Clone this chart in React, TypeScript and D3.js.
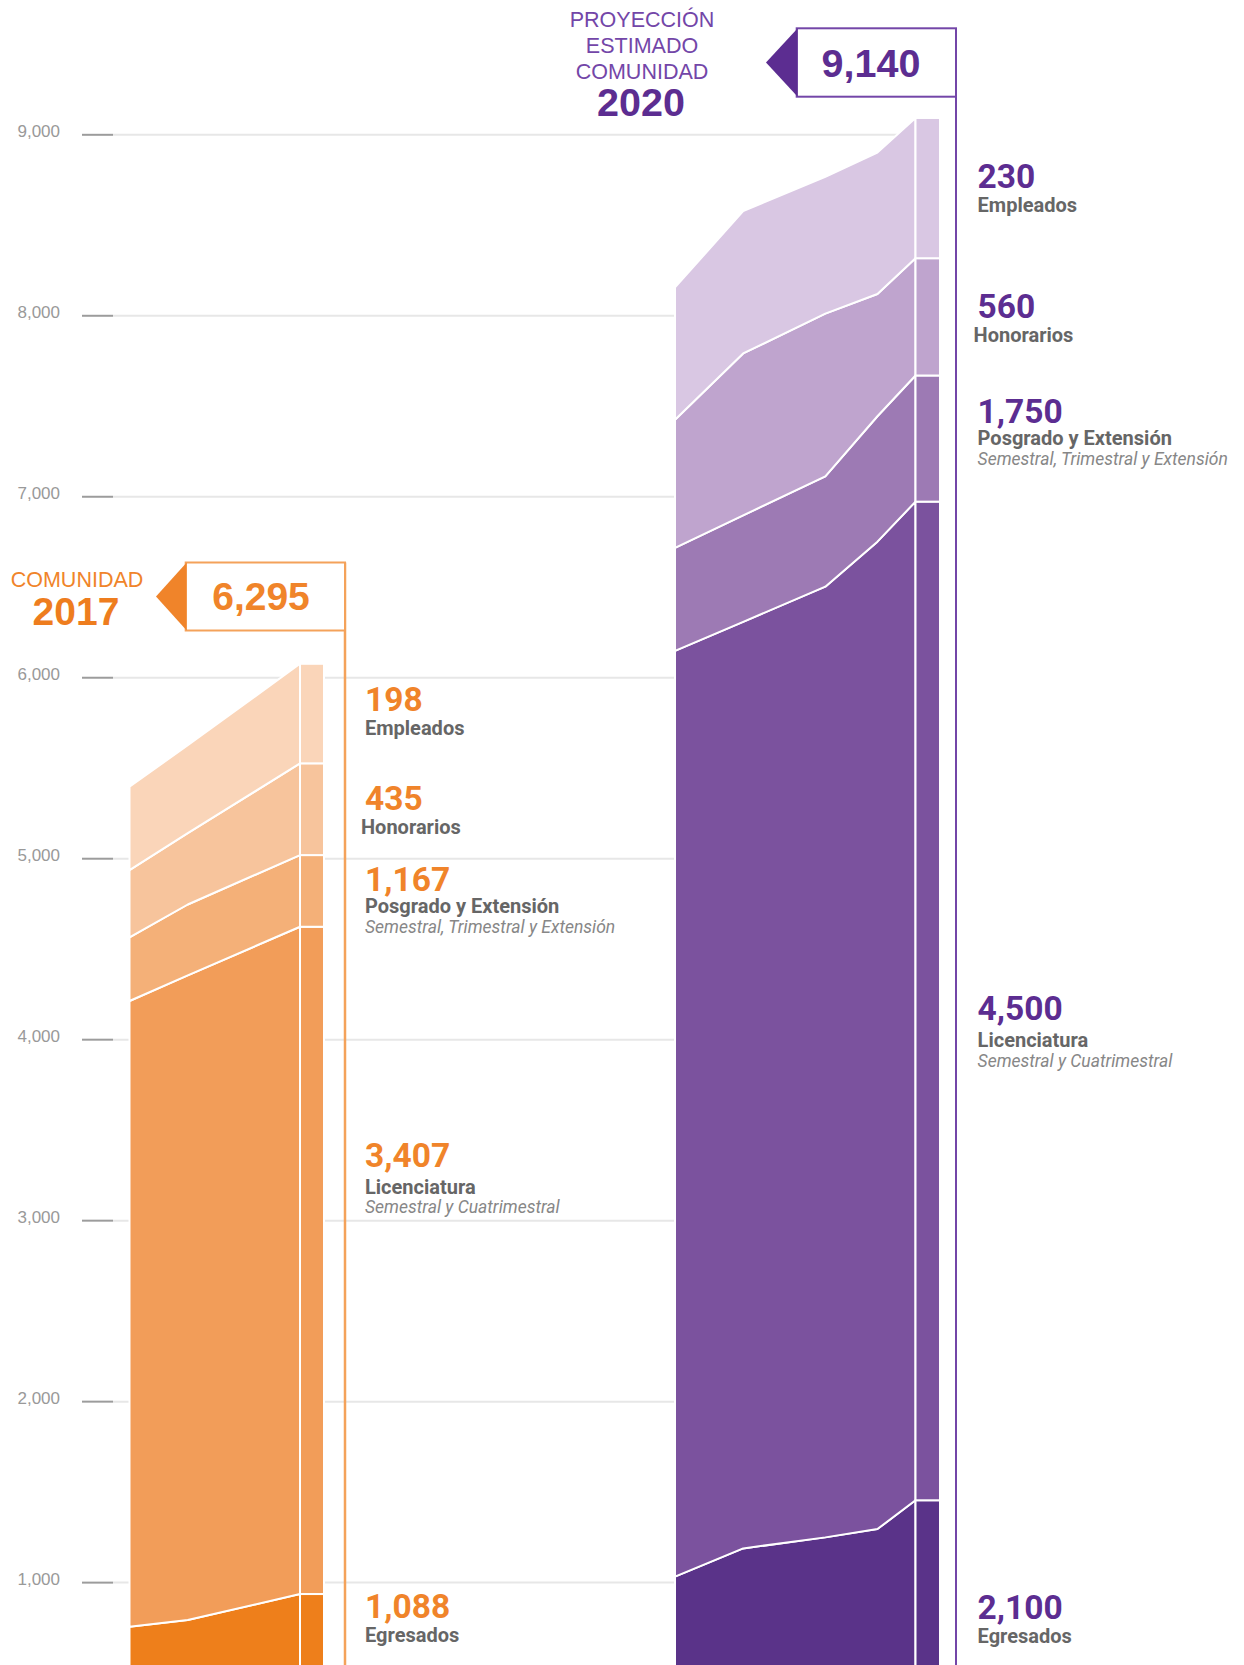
import React from 'react';
import * as d3 from 'd3';

// ---------- DATA ----------
const layerKeys = ['Egresados', 'Licenciatura', 'Posgrado', 'Honorarios', 'Empleados'];

// 2017 stack, read at three points along the area
const orangePeriods = [0, 4.1, 12];
const orangeEgresados = [756, 793, 937];
const orangeLicenciatura = [3458, 3562, 3687];
const orangePosgrado = [352, 392, 396];
const orangeHonorarios = [371, 394, 507];
const orangeEmpleados = [461, 486, 550];

// 2020 projection stack
const purplePeriods = [0, 3.4, 7.5, 10.1, 12];
const purpleEgresados = [1033, 1189, 1250, 1296, 1455];
const purpleLicenciatura = [5115, 5120, 5253, 5456, 5518];
const purplePosgrado = [570, 588, 610, 693, 697];
const purpleHonorarios = [708, 895, 899, 675, 648];
const purpleEmpleados = [731, 786, 756, 782, 775];

const yTicks = [1000, 2000, 3000, 4000, 5000, 6000, 7000, 8000, 9000];

const orangeTotal = '6,295';
const purpleTotal = '9,140';

// labels, top to bottom
const labelNames = ['Empleados', 'Honorarios', 'Posgrado y Extensión', 'Licenciatura', 'Egresados'];
const labelNotes = ['', '', 'Semestral, Trimestral y Extensión', 'Semestral y Cuatrimestral', ''];
const orangeLabelValues = ['198', '435', '1,167', '3,407', '1,088'];
const purpleLabelValues = ['230', '560', '1,750', '4,500', '2,100'];

// ---------- LAYOUT / STYLE ----------
const W = 1244;
const H = 1665;
const yScale = d3.scaleLinear().domain([0, 9000]).range([1763.6, 134.8]);

const orangeColors = ['#EE7F1B', '#F29D59', '#F4B078', '#F7C49C', '#FAD5B9'];
const purpleColors = ['#5A3389', '#7B529E', '#9D7AB4', '#BFA4CE', '#D9C7E3'];

const ORANGE = '#F0842A';
const ORANGE_LINE = '#F4A25A';
const PURPLE = '#5C2D91';
const PURPLE_LIGHT = '#7346A8';
const GREY_TXT = '#666666';
const GREY_NOTE = '#878787';

const orangeLabelBase = [711, 809.5, 891, 1166.5, 1618];
const purpleLabelBase = [188, 318, 423, 1020, 1619];
const nameDy = [24, 24, 22, 27, 24];
const nameDx = [0, -4, 0, 0, 0];
const noteDy = 19.5;

const SANS = '"Liberation Sans", Arial, Helvetica, sans-serif';
const ROBOTO = 'Roboto, "Noto Sans", sans-serif';

function buildRows(periods: number[], cols: number[][]) {
  return periods.map((p, i) => {
    const row: any = { period: p };
    layerKeys.forEach((k, j) => (row[k] = cols[j][i]));
    return row;
  });
}

function Stack({ rows, x0, x1, barW, colors }: any) {
  const x = d3.scaleLinear().domain([0, 12]).range([x0, x1]);
  const series = d3.stack().keys(layerKeys)(rows);
  const area = d3
    .area<any>()
    .x((d) => x(d.data.period))
    .y0((d) => yScale(d[0]))
    .y1((d) => yScale(d[1]));
  return (
    <g>
      {series.map((s: any, i: number) => (
        <path key={'a' + i} d={area(s) || ''} fill={colors[i]} stroke="#fff" strokeWidth={2} strokeLinejoin="round" />
      ))}
      {series.map((s: any, i: number) => {
        const last = s[s.length - 1];
        const top = yScale(last[1]);
        const bot = yScale(last[0]);
        return (
          <rect key={'b' + i} x={x1} y={top} width={barW} height={bot - top} fill={colors[i]} stroke="#fff" strokeWidth={2} />
        );
      })}
    </g>
  );
}

function Labels({ values, bases, x, color }: any) {
  return (
    <g>
      {values.map((v: string, i: number) => (
        <g key={i}>
          <text x={x} y={bases[i]} fill={color} fontFamily={ROBOTO} fontWeight={700} fontSize={33.5}>
            {v}
          </text>
          <text x={x + nameDx[i]} y={bases[i] + nameDy[i]} fill={GREY_TXT} fontFamily={ROBOTO} fontWeight={700} fontSize={20}>
            {labelNames[i]}
          </text>
          {labelNotes[i] && (
            <text x={x} y={bases[i] + nameDy[i] + noteDy} fill={GREY_NOTE} fontFamily={ROBOTO} fontStyle="italic" fontSize={17.5}>
              {labelNotes[i]}
            </text>
          )}
        </g>
      ))}
    </g>
  );
}

export default function App() {
  const orangeRows = buildRows(orangePeriods, [orangeEgresados, orangeLicenciatura, orangePosgrado, orangeHonorarios, orangeEmpleados]);
  const purpleRows = buildRows(purplePeriods, [purpleEgresados, purpleLicenciatura, purplePosgrado, purpleHonorarios, purpleEmpleados]);
  const fmt = d3.format(',');

  return (
    <svg
      width={W}
      height={H}
      viewBox={`0 0 ${W} ${H}`}
      style={{ position: 'absolute', left: 0, top: 0, background: '#fff', display: 'block' }}
    >
      <rect x={0} y={0} width={W} height={H} fill="#fff" />
      {/* axis + gridlines */}
      <g>
        {yTicks.map((t) => (
          <g key={t}>
            <line x1={113} x2={940} y1={yScale(t)} y2={yScale(t)} stroke="#e7e7e7" strokeWidth={2} />
            <line x1={82} x2={113} y1={yScale(t)} y2={yScale(t)} stroke="#9c9c9c" strokeWidth={2} />
            <text x={60} y={yScale(t) + 2} textAnchor="end" fill="#999999" fontFamily={SANS} fontSize={17}>
              {fmt(t)}
            </text>
          </g>
        ))}
      </g>

      <Stack rows={orangeRows} x0={129.5} x1={300} barW={24} colors={orangeColors} />
      <Stack rows={purpleRows} x0={675} x1={915.5} barW={24.5} colors={purpleColors} />

      {/* 2017 tag */}
      <line x1={345} x2={345} y1={562.5} y2={H} stroke={ORANGE_LINE} strokeWidth={2.5} />
      <rect x={185.7} y={562.5} width={345 - 185.7} height={68} fill="#fff" stroke={ORANGE_LINE} strokeWidth={2} />
      <path d="M156,596.5 L186.7,562.5 L186.7,630.5 Z" fill={ORANGE} />
      <text x={261} y={610} textAnchor="middle" fill={ORANGE} fontFamily={SANS} fontWeight={700} fontSize={39}>
        {orangeTotal}
      </text>
      <text x={77} y={587} textAnchor="middle" fill={ORANGE} fontFamily={SANS} fontSize={21.5}>
        COMUNIDAD
      </text>
      <text x={76} y={625} textAnchor="middle" fill="#EE7D1E" fontFamily={SANS} fontWeight={700} fontSize={39}>
        2017
      </text>

      {/* 2020 tag */}
      <line x1={956} x2={956} y1={28.3} y2={H} stroke={PURPLE_LIGHT} strokeWidth={2} />
      <rect x={796.7} y={28.3} width={956 - 796.7} height={68.4} fill="#fff" stroke={PURPLE_LIGHT} strokeWidth={2} />
      <path d="M766,62.5 L797.7,28.3 L797.7,96.7 Z" fill={PURPLE} />
      <text x={871} y={77} textAnchor="middle" fill={PURPLE} fontFamily={SANS} fontWeight={700} fontSize={39.5}>
        {purpleTotal}
      </text>
      <text x={642} y={27} textAnchor="middle" fill={PURPLE_LIGHT} fontFamily={SANS} fontSize={21.5}>
        PROYECCIÓN
      </text>
      <text x={642} y={52.5} textAnchor="middle" fill={PURPLE_LIGHT} fontFamily={SANS} fontSize={21.5}>
        ESTIMADO
      </text>
      <text x={642} y={79} textAnchor="middle" fill={PURPLE_LIGHT} fontFamily={SANS} fontSize={21.5}>
        COMUNIDAD
      </text>
      <text x={641} y={116} textAnchor="middle" fill={PURPLE} fontFamily={SANS} fontWeight={700} fontSize={39.5}>
        2020
      </text>

      <Labels values={orangeLabelValues} bases={orangeLabelBase} x={365} color={ORANGE} />
      <Labels values={purpleLabelValues} bases={purpleLabelBase} x={977.6} color={PURPLE} />
    </svg>
  );
}
